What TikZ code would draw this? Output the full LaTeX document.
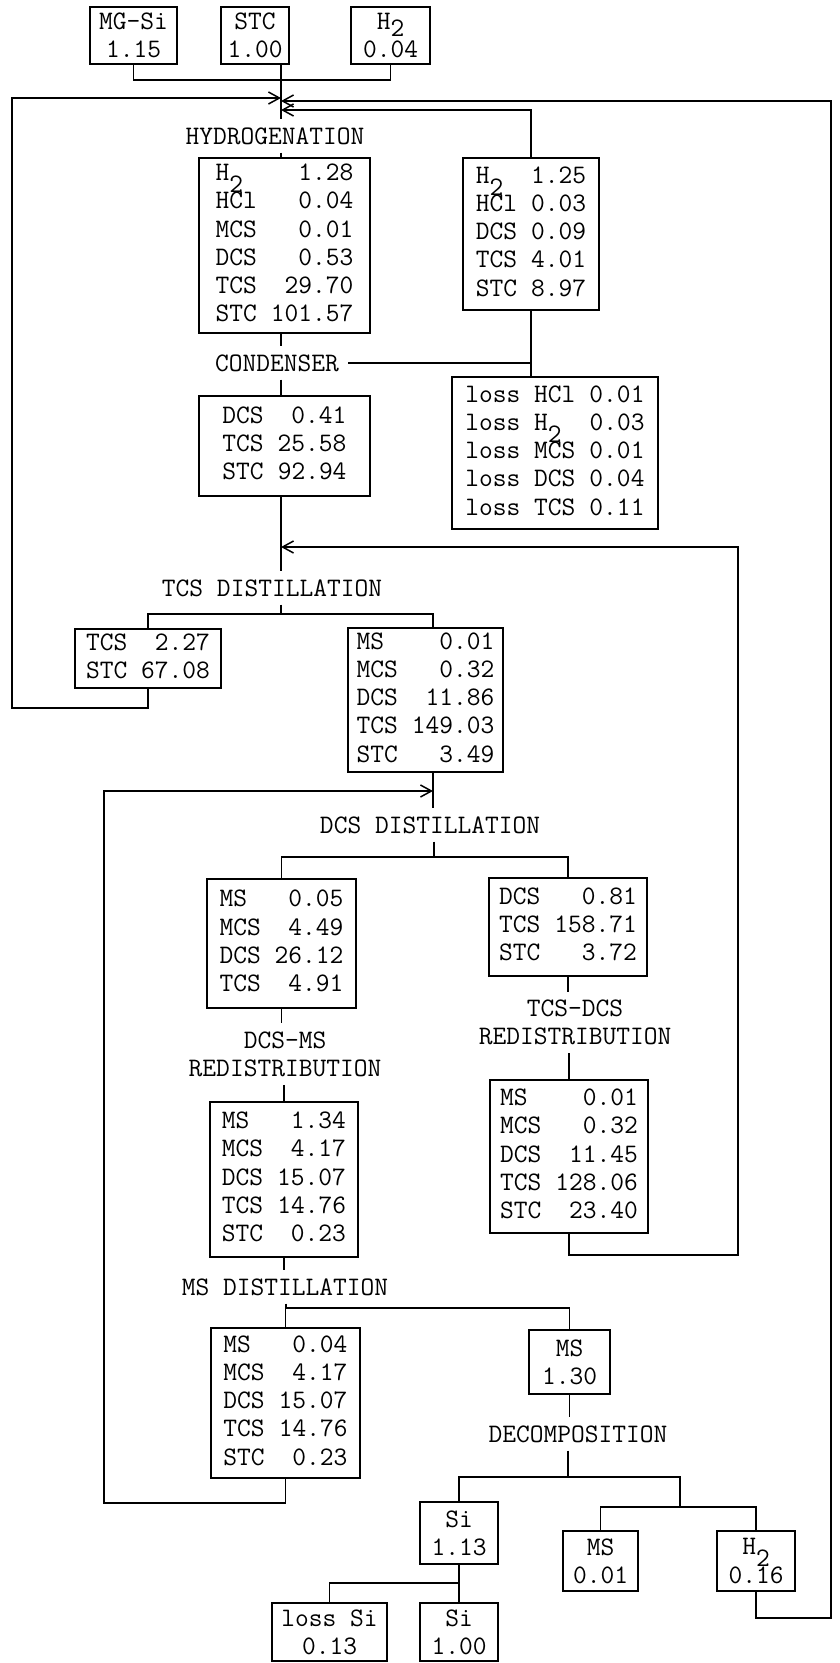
\documentclass[tikz,border=0pt]{standalone}
\usetikzlibrary{arrows.meta}
\newcommand{\tf}{\fontsize{26.7}{28.3}\selectfont\ttfamily}
\newcommand{\Hlow}{H\smash{\raisebox{-12pt}{2}}}
\newcommand{\Htop}{H\smash{\raisebox{-7pt}{2}}}
\newcommand{\rows}[1]{\begin{tabular}{@{}l@{\hspace{0.525em}}r@{}}#1\end{tabular}}
\begin{document}
\begin{tikzpicture}[x=1pt,y=-1pt,
  box/.style={draw,line width=1.5pt,inner sep=0pt,font=\tf,align=center},
  lbl/.style={inner xsep=9pt,inner ysep=8pt,font=\tf,align=center},
  line/.style={line width=1.5pt},
  arr/.style={line width=1.5pt,-{Straight Barb[length=11pt,width=12pt,line width=1.5pt]}}]
\fill[white] (0,0) rectangle (839,1663);
\useasboundingbox (0,0) rectangle (839,1663);

% boxes
\node[box,minimum width=87,minimum height=57] (mgsi) at (133.5,35.5) {MG-Si\\1.15};
\node[box,minimum width=68,minimum height=57] (stc) at (255,35.5) {STC\\1.00};
\node[box,minimum width=79,minimum height=57] (h2in) at (390.5,35.5) {\Htop\\0.04};

\node[box,minimum width=171,minimum height=175] (hyd) at (284.5,245.5)
  {\rows{\Hlow & 1.28\\ HCl & 0.04\\ MCS & 0.01\\ DCS & 0.53\\ TCS & 29.70\\ STC & 101.57}};
\node[box,minimum width=136,minimum height=152] (recyc) at (531,234)
  {\rows{\Hlow & 1.25\\ HCl & 0.03\\ DCS & 0.09\\ TCS & 4.01\\ STC & 8.97}};
\node[box,minimum width=206,minimum height=152] (loss) at (555,453)
  {\rows{loss HCl & 0.01\\ loss \Hlow & 0.03\\ loss MCS & 0.01\\ loss DCS & 0.04\\ loss TCS & 0.11}};
\node[box,minimum width=171,minimum height=100] (cond) at (284.5,446)
  {\rows{DCS & 0.41\\ TCS & 25.58\\ STC & 92.94}};
\node[box,minimum width=146,minimum height=59] (tcsout) at (148,658.5)
  {\rows{TCS & 2.27\\ STC & 67.08}};
\node[box,minimum width=155,minimum height=144] (distout) at (425.5,700)
  {\rows{MS & 0.01\\ MCS & 0.32\\ DCS & 11.86\\ TCS & 149.03\\ STC & 3.49}};
\node[box,minimum width=149,minimum height=129] (dcsL) at (281.5,943.5)
  {\rows{MS & 0.05\\ MCS & 4.49\\ DCS & 26.12\\ TCS & 4.91}};
\node[box,minimum width=158,minimum height=98] (dcsR) at (568,927)
  {\rows{DCS & 0.81\\ TCS & 158.71\\ STC & 3.72}};
\node[box,minimum width=158,minimum height=153] (redR) at (569,1156.5)
  {\rows{MS & 0.01\\ MCS & 0.32\\ DCS & 11.45\\ TCS & 128.06\\ STC & 23.40}};
\node[box,minimum width=148,minimum height=155] (redL) at (284,1179.5)
  {\rows{MS & 1.34\\ MCS & 4.17\\ DCS & 15.07\\ TCS & 14.76\\ STC & 0.23}};
\node[box,minimum width=149,minimum height=150] (msL) at (285.5,1403)
  {\rows{MS & 0.04\\ MCS & 4.17\\ DCS & 15.07\\ TCS & 14.76\\ STC & 0.23}};
\node[box,minimum width=81,minimum height=64] (ms130) at (569.5,1362) {MS\\1.30};
\node[box,minimum width=78,minimum height=62] (si113) at (459,1533) {Si\\1.13};
\node[box,minimum width=75,minimum height=60] (ms001) at (600.5,1561) {MS\\0.01};
\node[box,minimum width=78,minimum height=60] (h2out) at (756,1561) {\Hlow\\0.16};
\node[box,minimum width=115,minimum height=58] (losssi) at (329.5,1632) {loss Si\\0.13};
\node[box,minimum width=78,minimum height=58] (si100) at (459,1632) {Si\\1.00};

% process labels
\node[lbl] (hydl) at (275,136) {HYDROGENATION};
\node[lbl] (condl) at (277,363) {CONDENSER};
\node[lbl] (tcsdl) at (272,588) {TCS DISTILLATION};
\node[lbl] (dcsdl) at (430,825) {DCS DISTILLATION};
\node[lbl] (redRl) at (575,1022.5) {TCS-DCS\\REDISTRIBUTION};
\node[lbl] (redLl) at (285,1054) {DCS-MS\\REDISTRIBUTION};
\node[lbl] (msdl) at (285,1287) {MS DISTILLATION};
\node[lbl] (decl) at (578,1434) {DECOMPOSITION};

% junction coordinates
\coordinate (j1) at (281,80);
\coordinate (inL) at (281,98);
\coordinate (inR) at (281,101);
\coordinate (inM) at (281,110);
\coordinate (lT) at (12,98);
\coordinate (lB) at (12,708);
\coordinate (rT) at (831,101);
\coordinate (rB) at (831,1618);
\coordinate (s1) at (281,614);
\coordinate (xd) at (433,0);
\coordinate (a2) at (281,547);
\coordinate (a2R) at (738,547);
\coordinate (a2B) at (738,1255);
\coordinate (a3) at (433,791);
\coordinate (a3L) at (104,791);
\coordinate (a3B) at (104,1503);
\coordinate (s2) at (434,857);
\coordinate (s3) at (286,1308);
\coordinate (s4) at (568,1477);
\coordinate (s5) at (680,1507);
\coordinate (s6) at (459,1583);

% connectors
\draw[line] (mgsi.south) |- (j1) -| (h2in.south);
\draw[line] (stc.south -| j1) -- (hydl.north -| j1);
\draw[arr] (tcsout.south) |- (lB) -- (lT) -- (inL);
\draw[arr] (h2out.south) |- (rB) -- (rT) -- (inR);
\draw[arr] (recyc.north) |- (inM);
\draw[line] (hydl.south -| j1) -- (hyd.north -| j1);
\draw[line] (hyd.south -| j1) -- (condl.north -| j1);
\draw[line] (condl.south -| j1) -- (cond.north -| j1);
\draw[line] (condl.east) -- (condl.east -| recyc.south);
\draw[line] (recyc.south) -- (loss.north -| recyc.south);
\draw[line] (cond.south -| j1) -- (tcsdl.north -| j1);
\draw[arr] (redR.south) |- (a2B) -- (a2R) -- (a2);
\draw[line] (tcsdl.south -| s1) -- (s1);
\draw[line] (tcsout.north) |- (s1) -| (distout.north -| xd);
\draw[line] (distout.south -| xd) -- (dcsdl.north -| xd);
\draw[arr] (msL.south) |- (a3B) -- (a3L) -- (a3);
\draw[line] (dcsdl.south -| s2) -- (s2);
\draw[line] (dcsL.north) |- (s2) -| (dcsR.north);
\draw[line] (dcsL.south) -- (redLl.north -| dcsL.south);
\draw[line] (redLl.south -| redL.north) -- (redL.north);
\draw[line] (dcsR.south) -- (redRl.north -| dcsR.south);
\draw[line] (redRl.south -| redR.north) -- (redR.north);
\draw[line] (redL.south) -- (msdl.north -| redL.south);
\draw[line] (msdl.south -| s3) -- (s3);
\draw[line] (msL.north) |- (s3) -| (ms130.north);
\draw[line] (ms130.south) -- (decl.north -| ms130.south);
\draw[line] (decl.south -| s4) -- (s4);
\draw[line] (si113.north) |- (s4) -| (s5);
\draw[line] (ms001.north) |- (s5) -| (h2out.north);
\draw[line] (si113.south) -- (s6);
\draw[line] (losssi.north) |- (s6) -| (si100.north);
\end{tikzpicture}
\end{document}
